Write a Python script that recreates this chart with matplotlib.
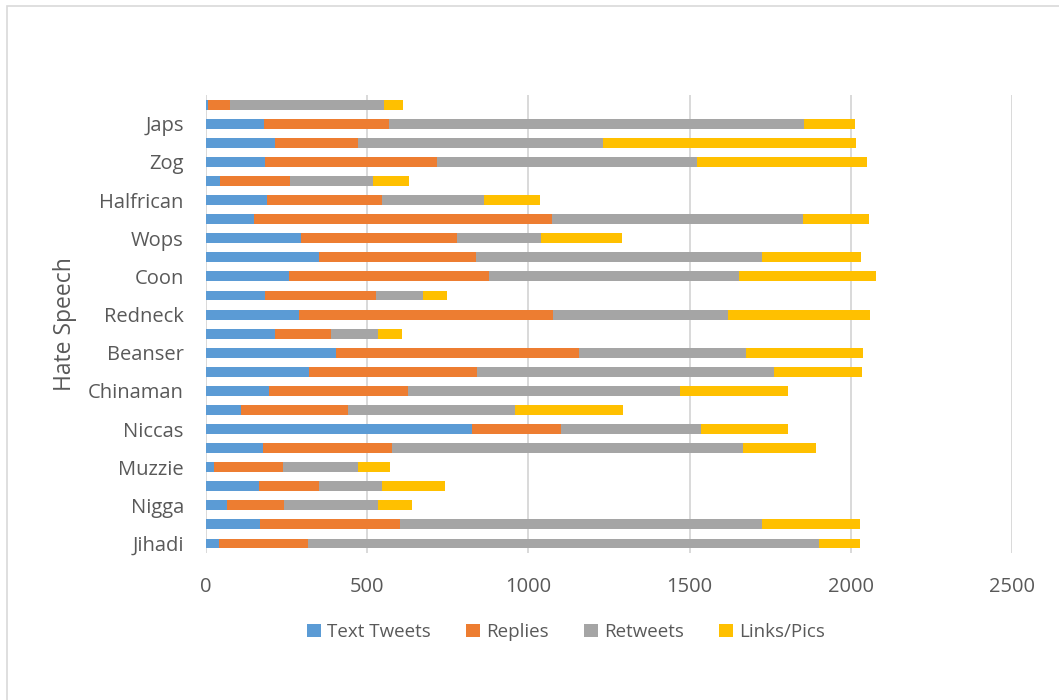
import matplotlib.pyplot as plt
import matplotlib.patches as mpatches
import numpy as np

plt.rcParams['font.family'] = ['Open Sans', 'DejaVu Sans']

# categories bottom to top; only every other one carries a label
terms = ["Jihadi", "", "Nigga", "", "Muzzie", "", "Niccas", "", "Chinaman", "",
         "Beanser", "", "Redneck", "", "Coon", "", "Wops", "", "Halfrican", "",
         "Zog", "", "Japs", ""]

text_tweets = [40, 168, 64, 164, 24, 178, 825, 108, 196, 319, 404, 214,
               290, 183, 257, 350, 294, 150, 189, 42, 183, 215, 179, 7]
replies = [275, 435, 177, 186, 215, 398, 276, 334, 431, 521, 753, 173,
           786, 345, 621, 488, 484, 923, 356, 219, 535, 257, 388, 66]
retweets = [1588, 1121, 292, 196, 233, 1091, 434, 516, 845, 923, 517, 148,
            544, 146, 777, 886, 261, 780, 316, 256, 805, 760, 1287, 479]
links_pics = [126, 304, 106, 196, 99, 225, 271, 335, 334, 272, 363, 72,
              441, 74, 423, 308, 251, 205, 175, 113, 528, 785, 158, 58]

series = [("Text Tweets", text_tweets, "#5B9BD5"),
          ("Replies", replies, "#ED7D31"),
          ("Retweets", retweets, "#A5A5A5"),
          ("Links/Pics", links_pics, "#FFC000")]

fig = plt.figure(figsize=(10.59, 7.0), dpi=100)
ax = fig.add_axes([0.1945, 0.21, 0.761, 0.654])

y = np.arange(len(terms))
left = np.zeros(len(terms))
for name, vals, color in series:
    ax.barh(y, vals, left=left, height=0.52, color=color, label=name, linewidth=0, zorder=3)
    left += np.array(vals)

ax.set_xlim(0, 2500)
ax.set_ylim(-0.5, len(terms) - 0.5)
ax.set_xticks([0, 500, 1000, 1500, 2000, 2500])
ax.set_yticks(y[::2])
ax.set_yticklabels(terms[::2])
ax.grid(axis='x', color='#D9D9D9', linewidth=1.4, zorder=0)
for s in ax.spines.values():
    s.set_visible(False)
ax.tick_params(axis='both', length=0, labelsize=14.5, colors='#595959')
ax.tick_params(axis='x', pad=17)
ax.tick_params(axis='y', pad=16)
ax.set_ylabel("Hate Speech", fontsize=16.5, color='#595959', labelpad=8)

handles, labels = ax.get_legend_handles_labels()
fig.legend(handles, labels, loc='center', bbox_to_anchor=(566 / 1059, 1 - 632 / 700),
           ncol=4, frameon=False, fontsize=13.5, labelcolor='#595959',
           handlelength=0.75, handleheight=0.75, handletextpad=0.3, columnspacing=1.9)

# light chart-area frame
fig.add_artist(mpatches.Rectangle((7 / 1059, -0.05), 1.2, 1 - 6 / 700 + 0.05,
                                  transform=fig.transFigure, fill=False,
                                  edgecolor='#D9D9D9', linewidth=1.2))

fig.savefig("out.png", dpi=100)
